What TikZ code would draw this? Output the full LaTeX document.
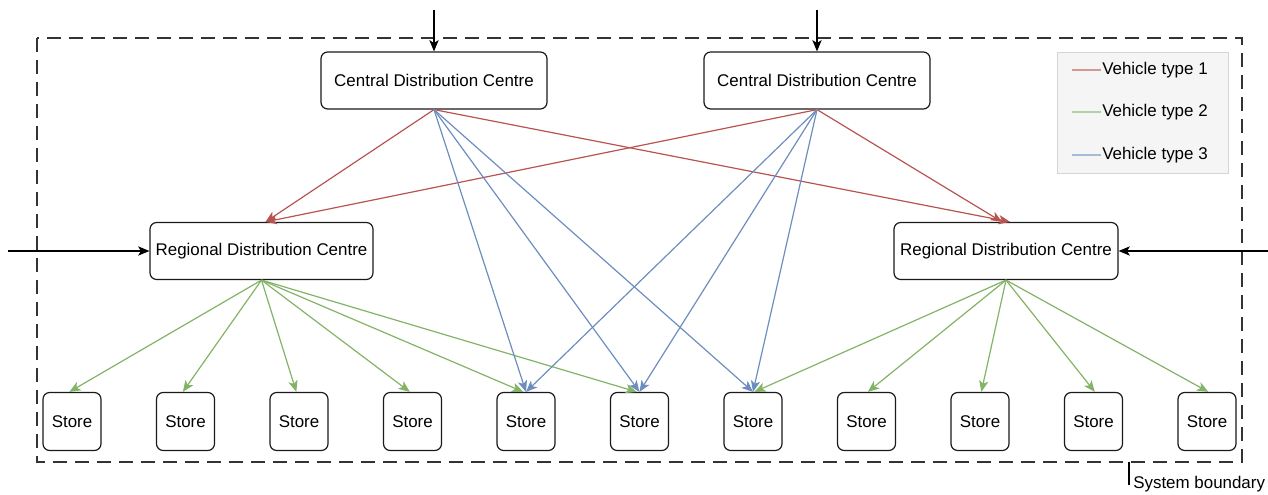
\documentclass[tikz,border=0pt]{standalone}
\usepackage{fontspec}
\setmainfont{Liberation Sans}
\usepackage{xcolor}
\usetikzlibrary{arrows.meta,positioning,calc}
\definecolor{VOne}{HTML}{B85450}
\definecolor{VTwo}{HTML}{82B366}
\definecolor{VThree}{HTML}{6C8EBF}
\definecolor{LegendFill}{HTML}{F5F5F5}
\definecolor{LegendRule}{HTML}{D4D4D4}
\definecolor{BoxRule}{HTML}{1A1A1A}

\begin{document}
\begin{tikzpicture}[x=0.75pt,y=-0.75pt,>={Stealth[length=8.5pt,width=7pt,inset=2.2pt]},
  font=\fontsize{12.7}{15}\selectfont,
  dcbox/.style={draw=BoxRule,line width=0.9pt,rounded corners=5pt,fill=white,minimum width=169.5pt,minimum height=42.75pt,inner sep=0pt},
  storebox/.style={draw=BoxRule,line width=0.9pt,rounded corners=5pt,fill=white,minimum width=43.5pt,minimum height=43.5pt,inner sep=0pt},
  feed/.style={->,line width=0.8pt,black},
  vone/.style={->,line width=0.9pt,VOne},
  vtwo/.style={->,line width=0.9pt,VTwo},
  vthree/.style={->,line width=0.9pt,VThree}]
  \useasboundingbox (0,0) rectangle (1268,495);
  % system boundary
  \draw[line width=0.8pt,black!80,dash pattern=on 10.5pt off 6pt] (37,38) rectangle (1242,462);
  % distribution centres
  \node[dcbox] (cdc1) at (434,80.5) {Central Distribution Centre};
  \node[dcbox] (cdc2) at (817,80.5) {Central Distribution Centre};
  \node[dcbox,minimum width=167.25pt] (rdc1) at (261.5,251) {Regional Distribution Centre};
  \node[dcbox,minimum width=168pt] (rdc2) at (1006,251) {Regional Distribution Centre};
  % stores
  \foreach \i in {1,...,11}
    \node[storebox] (s\i) at ({72+113.5*(\i-1)},421.5) {Store};
  % incoming flows
  \coordinate (in1) at (434,10);
  \coordinate (in2) at (817,10);
  \coordinate (in3) at (8,251);
  \coordinate (in4) at (1268,251);
  \draw[feed] (in1) -- (cdc1.north);
  \draw[feed] (in2) -- (cdc2.north);
  \draw[feed] (in3) -- (rdc1.west);
  \draw[feed] (in4) -- (rdc2.east);
  % vehicle type 1
  \draw[vone] (cdc1.south) -- ([xshift=3pt]rdc1.north);
  \draw[vone] (cdc2.south) -- ([xshift=3pt]rdc1.north);
  \draw[vone] (cdc1.south) -- ([xshift=3pt]rdc2.north);
  \draw[vone] (cdc2.south) -- ([xshift=-3pt]rdc2.north);
  % vehicle type 2
  \foreach \s in {1,...,6}
    \draw[vtwo] (rdc1.south) -- ([xshift=-2pt]s\s.north);
  \foreach \s in {7,...,11}
    \draw[vtwo] (rdc2.south) -- ([xshift=1pt]s\s.north);
  % vehicle type 3
  \foreach \s in {5,6,7} {
    \draw[vthree] (cdc1.south) -- (s\s.north);
    \draw[vthree] (cdc2.south) -- (s\s.north);
  }
  % legend
  \draw[LegendRule,fill=LegendFill,line width=0.6pt] (1057,52) rectangle (1228,173);
  \node[anchor=west,inner sep=0pt] (lg1) at (1102,70) {Vehicle type 1};
  \node[anchor=west,inner sep=0pt] (lg2) at (1102,112) {Vehicle type 2};
  \node[anchor=west,inner sep=0pt] (lg3) at (1102,155) {Vehicle type 3};
  \coordinate (l1) at (1072,70);
  \coordinate (l2) at (1072,112);
  \coordinate (l3) at (1072,155);
  \draw[VOne!60,line width=1.2pt] (l1) -- ([xshift=-1pt]lg1.west);
  \draw[VTwo!60,line width=1.2pt] (l2) -- ([xshift=-1pt]lg2.west);
  \draw[VThree!60,line width=1.2pt] (l3) -- ([xshift=-1pt]lg3.west);
  % boundary label
  \coordinate (sbtop) at (1129,462);
  \node[anchor=base west,inner sep=0pt] (sb) at (1133,488) {System boundary};
  \draw[line width=0.8pt] (sbtop) -- (1129,485);
\end{tikzpicture}
\end{document}
